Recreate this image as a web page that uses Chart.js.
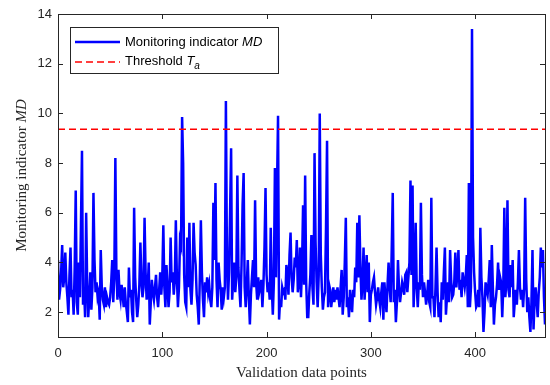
<!DOCTYPE html>
<html>
<head>
<meta charset="utf-8">
<script src="https://cdn.jsdelivr.net/npm/chart.js@4.4.1/dist/chart.umd.min.js"></script>
<style>
  html, body { margin: 0; padding: 0; background: #fff; }
  #wrap { width: 550px; height: 385px; }
</style>
</head>
<body>
<div id="wrap"><canvas id="mdChart" width="550" height="385"></canvas></div>
<script>
// values, one per validation point (index 0..467)
const md = [
  4.1, 2.5, 2.9, 3.6, 4.7, 3.0, 3.4, 4.4, 3.2, 2.6,
  1.9, 3.5, 4.6, 2.6, 2.9, 1.9, 3.8, 6.9, 2.4, 1.9,
  4.0, 2.6, 5.5, 8.5, 2.3, 2.9, 1.8, 6.0, 3.1, 1.8,
  2.6, 3.6, 2.1, 3.0, 6.8, 4.1, 2.8, 3.2, 2.6, 2.8,
  1.7, 4.5, 3.0, 2.5, 2.3, 3.0, 2.2, 2.6, 2.4, 2.3,
  2.6, 3.2, 4.1, 2.4, 3.5, 8.2, 3.6, 2.5, 3.7, 2.8,
  2.5, 3.1, 2.7, 2.2, 3.0, 2.4, 2.0, 1.6, 3.8, 2.6,
  2.9, 2.0, 1.6, 6.2, 3.4, 2.5, 1.8, 2.3, 3.1, 4.8,
  3.3, 2.6, 3.0, 5.8, 3.6, 2.5, 2.9, 4.0, 1.5, 2.4,
  3.3, 2.8, 2.5, 3.0, 3.5, 2.6, 2.2, 2.9, 3.6, 2.7,
  3.4, 5.5, 3.0, 2.2, 3.9, 3.1, 2.2, 2.8, 5.0, 3.2,
  3.6, 2.7, 3.3, 5.7, 3.4, 2.2, 3.0, 4.9, 4.7, 9.85,
  8.0, 3.5, 2.4, 2.2, 5.0, 3.0, 5.6, 2.9, 2.3, 3.3,
  5.6, 4.4, 3.9, 2.7, 2.2, 1.5, 3.4, 5.7, 3.6, 2.5,
  1.8, 3.2, 2.8, 3.4, 2.8, 3.1, 2.5, 2.2, 3.0, 6.4,
  4.1, 7.2, 3.3, 2.2, 4.0, 3.3, 2.9, 2.1, 3.0, 2.6,
  3.0, 10.5, 4.2, 2.5, 3.6, 6.0, 8.6, 2.5, 3.3, 4.0,
  2.8, 3.4, 7.5, 3.8, 2.9, 2.2, 3.9, 6.3, 7.6, 3.0,
  2.2, 3.1, 4.1, 2.6, 1.5, 2.7, 3.4, 4.1, 3.0, 6.5,
  3.2, 2.5, 3.4, 2.8, 3.0, 3.3, 2.2, 3.1, 4.6, 7.0,
  3.5, 2.8, 3.2, 2.5, 5.4, 3.0, 1.9, 3.2, 7.8, 3.4,
  6.9, 9.9, 1.7, 2.5, 2.2, 3.0, 2.8, 2.9, 2.5, 3.9,
  3.6, 2.7, 4.3, 5.2, 3.4, 2.8, 3.3, 4.2, 3.8, 4.9,
  2.8, 3.2, 4.6, 2.6, 3.8, 6.3, 3.1, 7.5, 3.2, 1.8,
  1.8, 2.8, 3.5, 5.1, 3.0, 2.3, 8.4, 4.8, 3.2, 2.2,
  3.5, 10.0, 4.3, 3.0, 2.1, 2.6, 2.8, 5.4, 8.9, 2.2,
  3.1, 2.9, 2.2, 2.6, 3.0, 2.4, 2.9, 2.5, 3.0, 2.6,
  2.2, 3.0, 3.7, 1.9, 2.6, 4.0, 5.8, 2.2, 2.6, 1.8,
  2.9, 2.4, 2.0, 2.9, 2.6, 3.8, 3.2, 5.6, 3.4, 5.9,
  3.8, 2.5, 3.2, 4.6, 2.5, 3.4, 4.3, 2.8, 4.0, 1.6,
  2.7, 2.9, 3.2, 3.4, 2.8, 2.3, 2.6, 3.0, 2.5, 2.2,
  2.8, 3.2, 1.7, 3.2, 2.6, 2.0, 3.1, 4.0, 3.0, 2.4,
  4.5, 6.8, 2.4, 2.9, 1.6, 2.4, 4.1, 3.0, 2.4, 2.8,
  3.2, 3.0, 2.7, 3.5, 3.6, 2.8, 3.4, 4.0, 7.3, 3.5,
  7.1, 2.2, 3.4, 5.6, 3.0, 2.2, 3.2, 2.9, 6.4, 3.5,
  2.6, 3.2, 2.8, 2.3, 2.7, 3.3, 2.4, 2.2, 6.6, 2.6,
  2.6, 1.8, 3.0, 4.6, 2.8, 1.8, 2.4, 1.6, 3.2, 2.5,
  3.6, 4.6, 1.9, 2.6, 3.2, 2.4, 4.5, 3.3, 2.6, 2.7,
  3.2, 4.4, 3.0, 3.6, 4.5, 2.9, 3.3, 2.6, 3.6, 3.3,
  3.0, 3.4, 4.3, 2.2, 7.2, 2.2, 3.0, 13.4, 5.0, 3.6,
  2.8, 2.2, 2.3, 2.9, 2.2, 5.4, 3.4, 2.6, 1.2, 2.0,
  3.2, 2.9, 2.7, 3.3, 4.1, 2.2, 4.7, 3.0, 1.5, 2.3,
  2.6, 3.1, 4.0, 2.9, 3.4, 3.2, 1.8, 3.0, 6.2, 2.6,
  3.3, 6.5, 2.9, 2.6, 3.9, 3.0, 4.1, 1.8, 2.4, 2.9,
  2.3, 3.2, 4.5, 3.0, 2.5, 2.9, 2.2, 3.0, 6.6, 3.3,
  2.0, 2.6, 1.8, 1.2, 2.4, 4.5, 1.3, 2.5, 3.0, 2.4,
  1.8, 2.8, 3.4, 4.6, 3.8, 4.5, 2.6, 1.5
];
const threshold = 9.36; // T_a
const xTicks = [0, 100, 200, 300, 400];
const yTicks = [2, 4, 6, 8, 10, 12, 14];
const xMax = 467;

const axisColor = '#262626';

// MATLAB-like box, inward ticks, legend and axis titles
const matlabFrame = {
    id: 'matlabFrame',
    afterDraw(chart) {
        const ctx = chart.ctx;
        const { left, right, top, bottom } = chart.chartArea;
        const xs = chart.scales.x, ys = chart.scales.y;
        ctx.save();
        ctx.strokeStyle = axisColor;
        ctx.lineWidth = 1;
        ctx.strokeRect(Math.round(left) + 0.5, Math.round(top) + 0.5,
            Math.round(right - left), Math.round(bottom - top));

        ctx.beginPath();
        xTicks.forEach(v => {
            const px = Math.round(xs.getPixelForValue(v)) + 0.5;
            ctx.moveTo(px, bottom); ctx.lineTo(px, bottom - 5);
            ctx.moveTo(px, top); ctx.lineTo(px, top + 5);
        });
        yTicks.forEach(v => {
            const py = Math.round(ys.getPixelForValue(v)) + 0.5;
            ctx.moveTo(left, py); ctx.lineTo(left + 5, py);
            ctx.moveTo(right, py); ctx.lineTo(right - 5, py);
        });
        ctx.stroke();

        // legend
        const lx = 70, ly = 27, lw = 208, lh = 46;
        ctx.fillStyle = '#fff';
        ctx.fillRect(lx, ly, lw, lh);
        ctx.strokeStyle = '#262626';
        ctx.strokeRect(lx + 0.5, ly + 0.5, lw, lh);

        ctx.lineWidth = 2.5;
        ctx.strokeStyle = '#0000ff';
        ctx.beginPath(); ctx.moveTo(75, 42); ctx.lineTo(120, 42); ctx.stroke();
        ctx.lineWidth = 1.5;
        ctx.strokeStyle = '#ff0000';
        ctx.setLineDash([7, 4]);
        ctx.beginPath(); ctx.moveTo(75, 62); ctx.lineTo(120, 62); ctx.stroke();
        ctx.setLineDash([]);

        ctx.fillStyle = '#000';
        ctx.textBaseline = 'middle';
        ctx.textAlign = 'left';
        ctx.font = '13px "Liberation Sans", Arial, sans-serif';
        let t = 'Monitoring indicator ';
        ctx.fillText(t, 125, 42);
        let w = ctx.measureText(t).width;
        ctx.font = 'italic 13px "Liberation Sans", Arial, sans-serif';
        ctx.fillText('MD', 125 + w, 42);

        ctx.font = '13px "Liberation Sans", Arial, sans-serif';
        t = 'Threshold ';
        ctx.fillText(t, 125, 61);
        w = ctx.measureText(t).width;
        ctx.font = 'italic 13px "Liberation Sans", Arial, sans-serif';
        ctx.fillText('T', 125 + w, 61);
        const tw = ctx.measureText('T').width;
        ctx.font = 'italic 10px "Liberation Sans", Arial, sans-serif';
        ctx.fillText('a', 125 + w + tw, 66);

        // x title
        ctx.font = '15px "Liberation Serif", "Times New Roman", serif';
        ctx.textAlign = 'center';
        ctx.fillStyle = axisColor;
        ctx.fillText('Validation data points', (left + right) / 2, 373);

        // y title, rotated, with italic MD
        ctx.translate(22, (top + bottom) / 2);
        ctx.rotate(-Math.PI / 2);
        const p1 = 'Monitoring indicator ';
        ctx.font = '15px "Liberation Serif", "Times New Roman", serif';
        const w1 = ctx.measureText(p1).width;
        ctx.font = 'italic 15px "Liberation Serif", "Times New Roman", serif';
        const w2 = ctx.measureText('MD').width;
        ctx.textAlign = 'left';
        ctx.font = '15px "Liberation Serif", "Times New Roman", serif';
        ctx.fillText(p1, -(w1 + w2) / 2, 0);
        ctx.font = 'italic 15px "Liberation Serif", "Times New Roman", serif';
        ctx.fillText('MD', -(w1 + w2) / 2 + w1, 0);
        ctx.restore();
    }
};

const ctx = document.getElementById('mdChart').getContext('2d');
new Chart(ctx, {
    type: 'line',
    data: {
        datasets: [{
            label: 'Threshold Ta',
            data: [{ x: 0, y: threshold }, { x: xMax, y: threshold }],
            borderColor: '#ff0000',
            borderWidth: 1.5,
            borderDash: [7, 4],
            pointRadius: 0,
            fill: false
        }, {
            label: 'Monitoring indicator MD',
            data: md.map((v, i) => ({ x: i, y: v })),
            borderColor: '#0000ff',
            borderWidth: 2.5,
            pointRadius: 0,
            tension: 0,
            fill: false
        }]
    },
    options: {
        responsive: false,
        animation: false,
        layout: { padding: { left: 0, top: 14, right: 5, bottom: 0 } },
        plugins: { legend: { display: false }, tooltip: { enabled: false } },
        scales: {
            x: {
                type: 'linear',
                min: 0,
                max: xMax,
                grid: { display: false, drawTicks: false },
                border: { display: false },
                afterBuildTicks: s => { s.ticks = xTicks.map(v => ({ value: v })); },
                afterFit: s => { s.height = 48; },
                ticks: {
                    padding: 9,
                    maxRotation: 0,
                    color: axisColor,
                    font: { family: '"Liberation Sans", Arial, sans-serif', size: 13 }
                }
            },
            y: {
                type: 'linear',
                min: 1,
                max: 14,
                grid: { display: false, drawTicks: false },
                border: { display: false },
                afterBuildTicks: s => { s.ticks = yTicks.map(v => ({ value: v })); },
                afterFit: s => { s.width = 58; },
                ticks: {
                    padding: 6,
                    color: axisColor,
                    font: { family: '"Liberation Sans", Arial, sans-serif', size: 13 }
                }
            }
        }
    },
    plugins: [matlabFrame]
});
</script>
</body>
</html>
